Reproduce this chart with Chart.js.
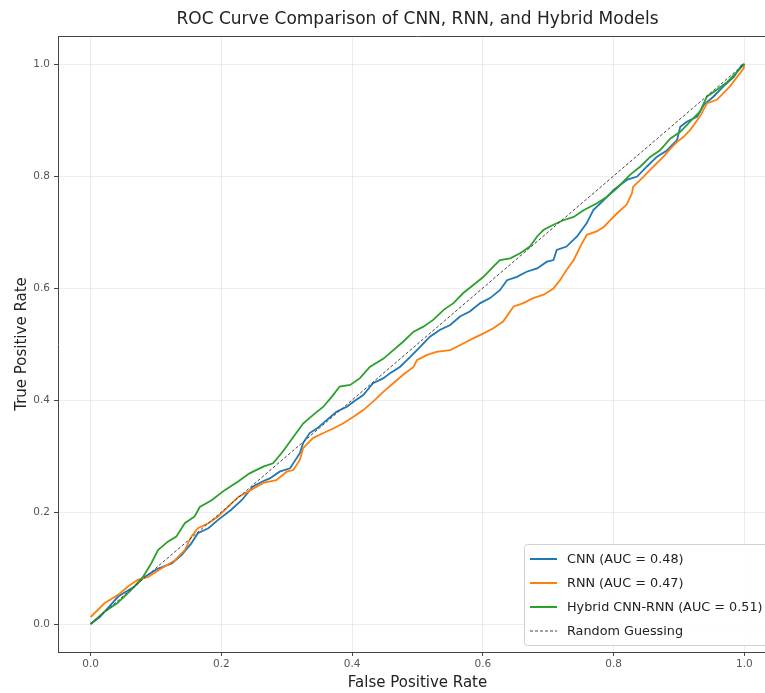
<!DOCTYPE html>
<html>
<head>
<meta charset="utf-8">
<script src="https://cdn.jsdelivr.net/npm/chart.js@4.4.1/dist/chart.umd.min.js"></script>
<style>
  html, body { margin: 0; padding: 0; background: #fff; overflow: hidden; }
  #wrap { width: 790px; height: 693px; }
</style>
</head>
<body>
<div id="wrap"><canvas id="roc" width="790" height="693"></canvas></div>
<script>
// ---- data ----
const titleText = "ROC Curve Comparison of CNN, RNN, and Hybrid Models";
const tickValues = [0, 0.2, 0.4, 0.6, 0.8, 1.0];
const tickLabels = ["0.0", "0.2", "0.4", "0.6", "0.8", "1.0"];

const cnnLabel = "CNN (AUC = 0.48)";
const cnnFpr = [0, 0.014, 0.042, 0.067, 0.080, 0.103, 0.124, 0.139, 0.154, 0.164, 0.180, 0.195, 0.215, 0.231,
  0.248, 0.262, 0.274, 0.289, 0.305, 0.320, 0.325, 0.335, 0.346, 0.361, 0.376, 0.392, 0.402, 0.417, 0.432,
  0.448, 0.458, 0.473, 0.489, 0.504, 0.519, 0.534, 0.550, 0.565, 0.580, 0.596, 0.611, 0.626, 0.637, 0.652,
  0.667, 0.683, 0.698, 0.708, 0.713, 0.728, 0.744, 0.759, 0.769, 0.785, 0.800, 0.820, 0.836, 0.851, 0.866,
  0.882, 0.897, 0.902, 0.912, 0.928, 0.938, 0.953, 0.968, 0.984, 0.996, 1.0];
const cnnTpr = [0, 0.0125, 0.049, 0.067, 0.082, 0.099, 0.108, 0.123, 0.144, 0.162, 0.171, 0.186, 0.204, 0.221,
  0.245, 0.254, 0.260, 0.272, 0.278, 0.305, 0.323, 0.341, 0.349, 0.364, 0.379, 0.388, 0.397, 0.409, 0.430,
  0.439, 0.448, 0.459, 0.477, 0.495, 0.513, 0.525, 0.534, 0.549, 0.558, 0.573, 0.582, 0.596, 0.614, 0.620,
  0.629, 0.635, 0.647, 0.650, 0.668, 0.674, 0.692, 0.716, 0.739, 0.757, 0.775, 0.793, 0.799, 0.817, 0.834,
  0.846, 0.864, 0.888, 0.897, 0.906, 0.927, 0.942, 0.960, 0.977, 0.998, 1.0];

const rnnLabel = "RNN (AUC = 0.47)";
const rnnFpr = [0, 0.021, 0.042, 0.057, 0.072, 0.088, 0.108, 0.129, 0.144, 0.154, 0.164, 0.180, 0.195, 0.210,
  0.226, 0.246, 0.264, 0.284, 0.300, 0.310, 0.320, 0.325, 0.340, 0.356, 0.371, 0.386, 0.402, 0.417, 0.432,
  0.448, 0.463, 0.478, 0.494, 0.499, 0.514, 0.529, 0.550, 0.570, 0.585, 0.601, 0.616, 0.631, 0.647, 0.662,
  0.677, 0.693, 0.708, 0.718, 0.728, 0.739, 0.749, 0.759, 0.774, 0.785, 0.795, 0.805, 0.820, 0.828, 0.830,
  0.846, 0.861, 0.876, 0.887, 0.897, 0.907, 0.917, 0.932, 0.943, 0.958, 0.968, 0.978, 0.989, 0.999, 1.0];
const rnnTpr = [0.0125, 0.037, 0.052, 0.067, 0.079, 0.084, 0.099, 0.114, 0.132, 0.156, 0.171, 0.180, 0.192, 0.209,
  0.227, 0.240, 0.252, 0.257, 0.272, 0.275, 0.293, 0.314, 0.332, 0.341, 0.349, 0.358, 0.370, 0.382, 0.397,
  0.415, 0.430, 0.445, 0.459, 0.471, 0.480, 0.486, 0.489, 0.501, 0.510, 0.519, 0.528, 0.540, 0.567, 0.573,
  0.582, 0.588, 0.599, 0.614, 0.632, 0.650, 0.674, 0.695, 0.701, 0.709, 0.721, 0.733, 0.749, 0.769, 0.781,
  0.799, 0.817, 0.834, 0.849, 0.861, 0.870, 0.882, 0.906, 0.930, 0.936, 0.948, 0.960, 0.977, 0.992, 1.0];

const hybLabel = "Hybrid CNN-RNN (AUC = 0.51)";
const hybFpr = [0, 0.021, 0.041, 0.062, 0.080, 0.093, 0.103, 0.118, 0.131, 0.144, 0.159, 0.167, 0.185, 0.205,
  0.225, 0.243, 0.264, 0.279, 0.294, 0.310, 0.325, 0.340, 0.356, 0.369, 0.381, 0.397, 0.412, 0.427, 0.448,
  0.463, 0.478, 0.494, 0.509, 0.524, 0.540, 0.555, 0.570, 0.585, 0.601, 0.616, 0.626, 0.642, 0.657, 0.672,
  0.683, 0.693, 0.708, 0.723, 0.739, 0.754, 0.774, 0.790, 0.805, 0.825, 0.841, 0.856, 0.871, 0.887, 0.902,
  0.917, 0.932, 0.943, 0.958, 0.974, 0.989, 1.0];
const hybTpr = [0, 0.022, 0.0375, 0.061, 0.084, 0.109, 0.132, 0.147, 0.156, 0.180, 0.192, 0.209, 0.221, 0.239,
  0.254, 0.269, 0.281, 0.287, 0.308, 0.334, 0.358, 0.373, 0.388, 0.406, 0.424, 0.427, 0.439, 0.459, 0.474,
  0.489, 0.504, 0.522, 0.531, 0.543, 0.561, 0.573, 0.591, 0.605, 0.620, 0.638, 0.650, 0.653, 0.662, 0.674,
  0.692, 0.704, 0.713, 0.721, 0.727, 0.739, 0.751, 0.763, 0.778, 0.802, 0.817, 0.834, 0.846, 0.867, 0.879,
  0.897, 0.915, 0.942, 0.954, 0.968, 0.986, 1.0];

const randLabel = "Random Guessing";
const randFpr = [0, 1];
const randTpr = [0, 1];

// ---- styling ----
const FONT = "'DejaVu Sans', sans-serif";
const BLUE = '#1f77b4', ORANGE = '#ff7f0e', GREEN = '#2ca02c', DASH = '#444444';

const toXY = (xs, ys) => xs.map((x, i) => ({ x: x, y: ys[i] }));

// title, top spine and the in-axes legend
const decorPlugin = {
  id: 'decor',
  afterDraw(chart) {
    const ctx = chart.ctx;
    const a = chart.chartArea;
    ctx.save();
    // top spine
    ctx.strokeStyle = '#444';
    ctx.lineWidth = 1;
    ctx.beginPath();
    ctx.moveTo(a.left, a.top + 0.5);
    ctx.lineTo(a.right, a.top + 0.5);
    ctx.stroke();
    // title
    ctx.fillStyle = '#222';
    ctx.font = '17px ' + FONT;
    ctx.textAlign = 'center';
    ctx.textBaseline = 'middle';
    ctx.fillText(titleText, (a.left + a.right) / 2, 20);

    // legend
    const bx = 524, by = 544, bw = a.right - 5 - bx, bh = 101;
    ctx.fillStyle = 'rgba(255,255,255,0.85)';
    ctx.strokeStyle = '#d0d0d0';
    ctx.beginPath();
    ctx.roundRect(bx + 0.5, by + 0.5, bw, bh, 3);
    ctx.fill();
    ctx.stroke();
    const items = [
      { label: cnnLabel, color: BLUE, dash: [] },
      { label: rnnLabel, color: ORANGE, dash: [] },
      { label: hybLabel, color: GREEN, dash: [] },
      { label: randLabel, color: DASH, dash: [3, 2] }
    ];
    ctx.font = '12.8px ' + FONT;
    ctx.textAlign = 'left';
    items.forEach((it, i) => {
      const y = by + 15 + i * 24;
      ctx.strokeStyle = it.color;
      ctx.lineWidth = it.dash.length ? 1.2 : 2;
      ctx.setLineDash(it.dash);
      ctx.beginPath();
      ctx.moveTo(530, y);
      ctx.lineTo(557, y);
      ctx.stroke();
      ctx.setLineDash([]);
      ctx.fillStyle = '#222';
      ctx.fillText(it.label, 567, y + 1);
    });
    ctx.restore();
  }
};

function fixTicks(scale) {
  scale.ticks = tickValues.map(v => ({ value: v }));
}

new Chart(document.getElementById('roc').getContext('2d'), {
  type: 'line',
  data: {
    datasets: [
      { label: cnnLabel, data: toXY(cnnFpr, cnnTpr), borderColor: BLUE, borderWidth: 1.8, pointRadius: 0, tension: 0, order: 3 },
      { label: rnnLabel, data: toXY(rnnFpr, rnnTpr), borderColor: ORANGE, borderWidth: 1.8, pointRadius: 0, tension: 0, order: 2 },
      { label: hybLabel, data: toXY(hybFpr, hybTpr), borderColor: GREEN, borderWidth: 1.8, pointRadius: 0, tension: 0, order: 1 },
      { label: randLabel, data: toXY(randFpr, randTpr), borderColor: DASH, borderWidth: 1, borderDash: [3, 2], pointRadius: 0, tension: 0, order: 0 }
    ]
  },
  options: {
    responsive: false,
    animation: false,
    layout: { padding: { left: 0, top: 36, right: 13, bottom: 0 } },
    plugins: { legend: { display: false }, tooltip: { enabled: false }, title: { display: false } },
    scales: {
      x: {
        type: 'linear', min: -0.05, max: 1.05,
        afterBuildTicks: fixTicks,
        afterFit: s => { s.height = 41; },
        grid: { color: 'rgba(0,0,0,0.07)', tickColor: '#444', tickLength: 4 },
        border: { display: true, color: '#444', width: 1 },
        ticks: { color: '#555', font: { family: FONT, size: 10.5 }, padding: 2, maxRotation: 0,
          callback: (v) => tickLabels[tickValues.indexOf(v)] },
        title: { display: true, text: 'False Positive Rate', color: '#222', font: { family: FONT, size: 15 }, padding: { top: 0, bottom: 1 } }
      },
      y: {
        type: 'linear', min: -0.05, max: 1.05,
        afterBuildTicks: fixTicks,
        afterFit: s => { s.width = 58; },
        grid: { color: 'rgba(0,0,0,0.07)', tickColor: '#444', tickLength: 4 },
        border: { display: true, color: '#444', width: 1 },
        ticks: { color: '#555', font: { family: FONT, size: 10.5 }, padding: 4,
          callback: (v) => tickLabels[tickValues.indexOf(v)] },
        title: { display: true, text: 'True Positive Rate', color: '#222', font: { family: FONT, size: 15 }, padding: { top: 13, bottom: 0 } }
      }
    }
  },
  plugins: [decorPlugin]
});
</script>
</body>
</html>
